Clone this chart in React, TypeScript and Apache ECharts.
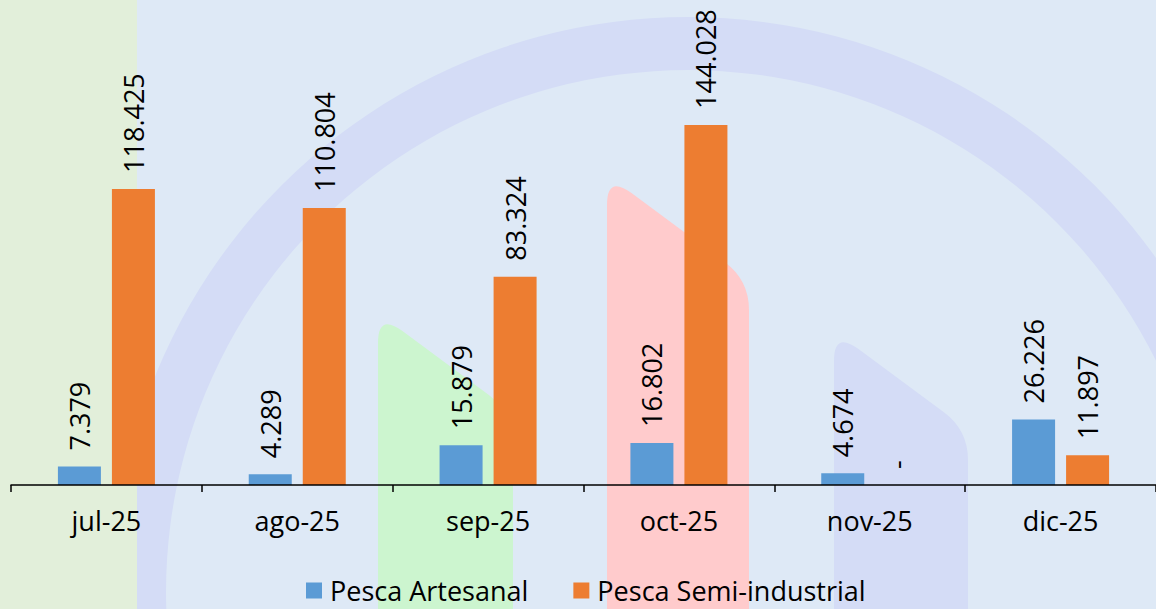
import React, { useEffect, useRef } from 'react';
import * as echarts from 'echarts';

const categories = ['jul-25', 'ago-25', 'sep-25', 'oct-25', 'nov-25', 'dic-25'];
const artesanal = [7379, 4289, 15879, 16802, 4674, 26226];
const semiIndustrial = [118425, 110804, 83324, 144028, 0, 11897];
const seriesNames = ['Pesca Artesanal', 'Pesca Semi-industrial'];
const seriesColors = ['#5b9bd5', '#ed7d31'];

const FONT = '"Open Sans", "Noto Sans", sans-serif';

function tabPath(L: number, R: number, T0: number, s: number, B: number, r: number) {
  const k = 1 / Math.sqrt(1 + s * s);
  const dx = r * k;
  const dy = r * s * k;
  const Tr = T0 + s * (R - L);
  return `M${L},${B} L${L},${T0 + r} Q${L},${T0} ${L + dx},${T0 + dy} L${R - dx},${Tr - dy} Q${R},${Tr} ${R},${Tr + r} L${R},${B} Z`;
}

echarts.graphic.registerShape('tabGreen', echarts.graphic.extendPath(tabPath(378, 513, 313, 0.74, 620, 30), {}));
echarts.graphic.registerShape('tabPink', echarts.graphic.extendPath(tabPath(607, 749, 175, 0.74, 620, 30), {}));
echarts.graphic.registerShape('tabLav', echarts.graphic.extendPath(tabPath(834, 968, 331, 0.74, 620, 30), {}));

function fmt(v: number) {
  if (v === 0) return '-';
  return String(v).replace(/\B(?=(\d{3})+(?!\d))/g, '.');
}

export default function App() {
  const ref = useRef<HTMLDivElement>(null);
  useEffect(() => {
    if (!ref.current) return;
    const chart = echarts.init(ref.current, undefined, { renderer: 'svg' });
    const labelCfg = {
      show: true,
      position: 'top',
      rotate: 90,
      align: 'left',
      verticalAlign: 'middle',
      distance: 16,
      fontSize: 27,
      fontFamily: FONT,
      color: '#000',
      formatter: (p: any) => fmt(p.value),
    };
    chart.setOption({
      animation: false,
      backgroundColor: '#dee9f6',
      textStyle: { fontFamily: FONT },
      graphic: [
        {
          type: 'ring',
          z: 0,
          silent: true,
          shape: { cx: 688, cy: 592, r: 575, r0: 522 },
          style: { fill: '#d4dcf6' },
        },
        {
          type: 'rect',
          z: 0,
          silent: true,
          shape: { x: 0, y: 0, width: 137, height: 609 },
          style: { fill: '#e2efda' },
        },
        { type: 'tabGreen', x: 0, y: 0, scaleX: 1, scaleY: 1, z: 0, silent: true, style: { fill: '#ccf5cf' } },
        { type: 'tabPink', x: 0, y: 0, scaleX: 1, scaleY: 1, z: 0, silent: true, style: { fill: '#ffcbcc' } },
        { type: 'tabLav', x: 0, y: 0, scaleX: 1, scaleY: 1, z: 0, silent: true, style: { fill: '#d4dcf6' } },
      ],
      grid: { left: 11, right: 0, top: 85, bottom: 124, containLabel: false },
      legend: {
        left: 306,
        top: 577,
        padding: 0,
        itemWidth: 16,
        itemHeight: 16,
        itemGap: 45,
        icon: 'rect',
        textStyle: { fontSize: 27, fontFamily: FONT, color: '#000', padding: [0, 0, 0, 3] },
        data: seriesNames,
      },
      xAxis: {
        type: 'category',
        data: categories,
        z: 5,
        axisLine: { show: true, lineStyle: { color: '#000', width: 1.5 } },
        axisTick: { show: true, length: 7, lineStyle: { color: '#000', width: 1.5 } },
        axisLabel: { fontSize: 27, fontFamily: FONT, color: '#000', margin: 22 },
      },
      yAxis: {
        type: 'value',
        min: 0,
        max: 160000,
        show: false,
        splitLine: { show: false },
      },
      series: [
        {
          name: seriesNames[0],
          type: 'bar',
          data: artesanal,
          barWidth: 43,
          barGap: '25.6%',
          itemStyle: { color: seriesColors[0] },
          label: labelCfg,
          z: 3,
        },
        {
          name: seriesNames[1],
          type: 'bar',
          data: semiIndustrial,
          barWidth: 43,
          barGap: '25.6%',
          itemStyle: { color: seriesColors[1] },
          label: labelCfg,
          z: 3,
        },
      ],
    });
    return () => chart.dispose();
  }, []);
  return (
    <div
      ref={ref}
      style={{ position: 'fixed', left: 0, top: 0, width: 1156, height: 609 }}
    />
  );
}
